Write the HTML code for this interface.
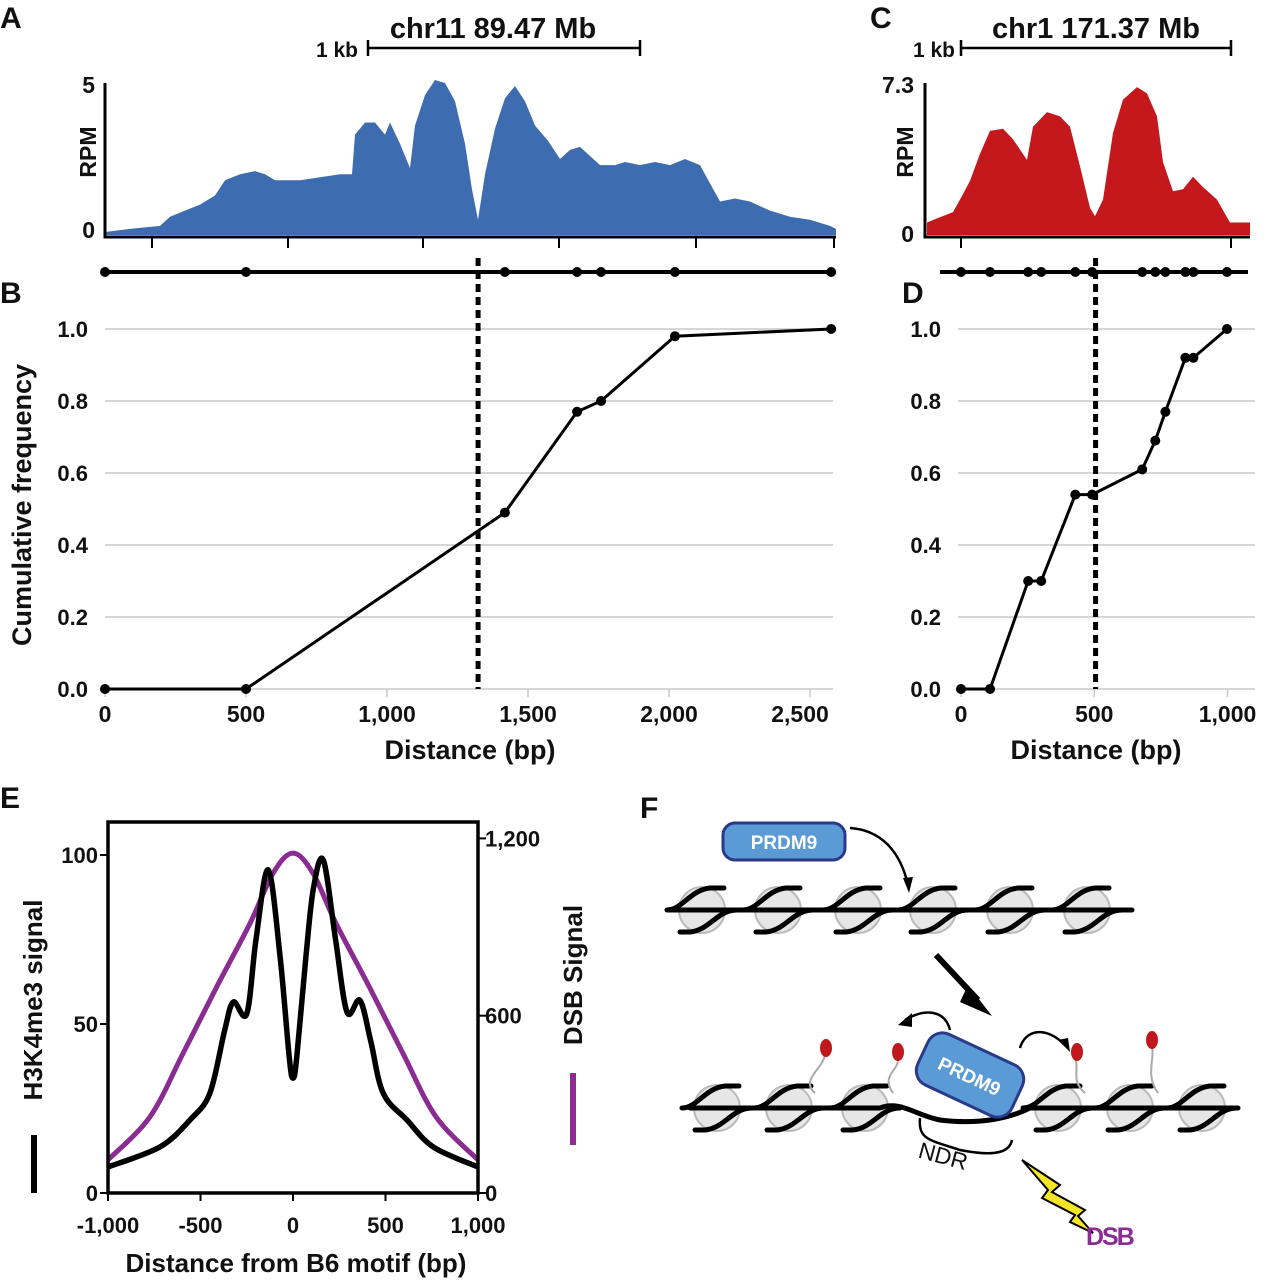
<!DOCTYPE html>
<html><head><meta charset="utf-8"><style>
body{margin:0;background:#fff}
svg{display:block;font-family:"Liberation Sans",sans-serif}
text{fill:#111;font-weight:bold}
</style></head><body>
<svg id="fig" width="1268" height="1280" viewBox="0 0 1268 1280">
<g id="gA"></g>
<g id="gB"></g>
<g id="gC"></g>
<g id="gD"></g>
<g id="gE"></g>
<g id="gF">
 <text x="640" y="818" font-size="30">F</text>
 <g id="nucTop"></g>
 <rect x="723" y="823" width="122" height="37" rx="12" fill="#5b9bd5" stroke="#2a3a8a" stroke-width="3"/>
 <text x="784" y="849" font-size="19" text-anchor="middle" style="fill:#fff">PRDM9</text>
 <path d="M850 828 C880 830 900 850 908 885" fill="none" stroke="#000" stroke-width="2.5"/>
 <path d="M903 878 L909 893 L913 877 Z" fill="#000"/>
 <path d="M936 955 L978 1000" stroke="#000" stroke-width="6"/>
 <path d="M968 985 L992 1016 L960 1002 Z" fill="#000"/>
 <g id="nucBot"></g>
 <g fill="none" stroke="#aaa" stroke-width="2"><path d="M815 1093 C800 1080 822 1070 825 1055"/><path d="M893 1093 C880 1075 900 1070 898 1058"/><path d="M1085 1093 C1070 1080 1080 1070 1075 1058"/><path d="M1158 1093 C1145 1075 1155 1060 1152 1045"/></g>
 <g fill="#c0181d">
  <ellipse cx="826" cy="1048" rx="6" ry="9"/><ellipse cx="898" cy="1052" rx="6" ry="9"/><ellipse cx="1077" cy="1052" rx="6" ry="9"/><ellipse cx="1152" cy="1040" rx="6" ry="9"/>
 </g>
 <path d="M950 1030 C945 1010 925 1008 905 1020" fill="none" stroke="#000" stroke-width="2.5"/>
 <path d="M1020 1048 C1025 1030 1045 1025 1065 1045" fill="none" stroke="#000" stroke-width="2.5"/>
 <path d="M898 1025 L912 1013 L912 1027 Z" fill="#000"/><path d="M1070 1052 L1058 1040 L1068 1038 Z" fill="#000"/>
 <path d="M880 1108 C900 1100 915 1115 940 1120 C980 1125 1010 1118 1030 1108" fill="none" stroke="#000" stroke-width="5"/>
 <g transform="rotate(25 970 1075)">
  <rect x="918" y="1047" width="104" height="56" rx="16" fill="#5b9bd5" stroke="#2a3a8a" stroke-width="3"/>
  <text x="970" y="1083" font-size="19" text-anchor="middle" style="fill:#fff">PRDM9</text>
 </g>
 <path d="M920 1118 C918 1140 930 1140 960 1150 C1000 1158 1010 1150 1012 1140" fill="none" stroke="#000" stroke-width="2.5"/>
 <text x="915" y="1163" font-size="23" font-weight="normal" transform="rotate(15 938 1168)" style="font-weight:normal">NDR</text>
 <path d="M1022 1160 L1060 1185 L1052 1192 L1085 1210 L1078 1216 L1093 1233 L1070 1222 L1075 1215 L1042 1198 L1048 1190 Z" fill="#f5e625" stroke="#000" stroke-width="2"/>
 <text x="1086" y="1245" font-size="25" style="fill:#8b2c92" letter-spacing="-2">DSB</text>
</g>
</svg>
<script>
// ---------- DATA ----------
const posA=[0,25,55,65,80,95,110,120,135,150,160,170,195,215,235,247,250,260,270,280,285,295,305,310,320,330,340,350,360,367,373,380,390,400,410,420,430,443,455,465,475,485,495,510,520,535,550,565,580,595,605,615,630,645,665,685,705,725,731];
const rpmA=[0.1,0.2,0.3,0.6,0.8,1.0,1.3,1.8,2.0,2.1,2.0,1.8,1.8,1.9,2.0,2.0,3.3,3.7,3.7,3.3,3.7,3.0,2.2,3.6,4.6,5.1,5.0,4.4,3.0,1.5,0.5,2.0,3.5,4.5,4.9,4.4,3.6,3.1,2.5,2.8,2.9,2.6,2.3,2.3,2.4,2.3,2.4,2.3,2.5,2.3,1.7,1.1,1.2,1.1,0.8,0.6,0.5,0.3,0.2];
const distB=[0,500,1418,1674,1759,2021,2575];
const freqB=[0,0,0.49,0.77,0.80,0.98,1.0];
const medianB=1323;
const posC=[0,10,26,33,43,53,63,76,86,100,106,120,133,143,153,163,168,176,186,196,210,220,230,236,246,256,266,276,290,303,323];
const rpmC=[0.6,0.8,1.1,1.7,2.6,3.9,5.0,5.1,4.6,3.6,5.2,5.9,5.7,5.2,3.3,1.3,0.9,1.7,4.9,6.5,7.1,6.8,5.7,3.5,2.1,2.2,2.8,2.3,1.7,0.6,0.6];
const distD=[0,109,252,301,429,492,680,729,767,842,872,998];
const freqD=[0,0,0.30,0.30,0.54,0.54,0.61,0.69,0.77,0.92,0.92,1.0];
const medianD=505;
const posE=[-1000,-720,-557,-449,-370,-323,-250,-200,-134,-70,-20,0,20,70,110,164,230,292,362,420,487,616,759,1000];
const h3k4=[7.7,13.6,21.6,29.6,48,56.5,53,75,95.6,70,40,34,40,70,90,98.5,75,53.5,57,45,29.6,21.6,13.6,7.7];
const posP=[-1000,-773,-594,-412,-232,-107,0,107,232,412,594,773,1000];
const dsb=[112,258,473,698,913,1083,1150,1083,913,698,473,258,112];
const ticksB=[0,500,1000,1500,2000,2500];
const ticksD=[0,500,1000];
const ticksFreq=[0,0.2,0.4,0.6,0.8,1.0];
const ticksEx=[-1000,-500,0,500,1000];
const ticksEl=[0,50,100];
const ticksEr=[0,600,1200];
// ---------- helpers ----------
const NS="http://www.w3.org/2000/svg";
function mk(parent,tag,attrs,txt){const e=document.createElementNS(NS,tag);for(const k in attrs)e.setAttribute(k,attrs[k]);if(txt!==undefined)e.textContent=txt;parent.appendChild(e);return e;}
const fmt=v=>v>=1000||v<=-1000?(v<0?"-":"")+Math.floor(Math.abs(v)/1000)+","+String(Math.abs(v)%1000).padStart(3,"0"):String(v);
function smooth(pts){let d='M'+pts[0][0]+' '+pts[0][1];
 for(let i=0;i<pts.length-1;i++){const p0=pts[Math.max(0,i-1)],p1=pts[i],p2=pts[i+1],p3=pts[Math.min(pts.length-1,i+2)];
  const c1=[p1[0]+(p2[0]-p0[0])/6,p1[1]+(p2[1]-p0[1])/6],c2=[p2[0]-(p3[0]-p1[0])/6,p2[1]-(p3[1]-p1[1])/6];
  d+=` C${c1[0]} ${c1[1]} ${c2[0]} ${c2[1]} ${p2[0]} ${p2[1]}`;}
 return d;}

// ---------- Panel A ----------
(function(){
const g=document.getElementById('gA');
const x=p=>105+p, y=v=>235-v/5*152;
mk(g,'text',{x:0,y:28,'font-size':30},'A');
mk(g,'text',{x:493,y:38,'font-size':29,'text-anchor':'middle'},'chr11 89.47 Mb');
mk(g,'path',{d:'M368 40V56M368 48H640M640 40V56',stroke:'#000','stroke-width':2.5,fill:'none'});
mk(g,'text',{x:358,y:57,'font-size':21,'text-anchor':'end'},'1 kb');
let d='M'+x(posA[0])+' '+y(0);
posA.forEach((p,i)=>{d+=' L'+x(p)+' '+y(rpmA[i]);});
d+=' L'+x(posA[posA.length-1])+' '+y(0)+' Z';
const a=mk(g,'path',{d:d,fill:'#3d6db0'});


mk(g,'path',{d:'M105 83V237H836',stroke:'#000','stroke-width':3,fill:'none'});
[152,288,423,559,696,834].forEach(t=>mk(g,'line',{x1:t,x2:t,y1:237,y2:248,stroke:'#000','stroke-width':2}));
mk(g,'text',{x:95,y:93,'font-size':23,'text-anchor':'end'},'5');
mk(g,'text',{x:95,y:238,'font-size':23,'text-anchor':'end'},'0');
mk(g,'text',{x:0,y:0,'font-size':23,'text-anchor':'middle',transform:'translate(96,152) rotate(-90)'},'RPM');
})();

// ---------- CDF panels ----------
function cdf(gid,label,x0,pxPerBp,ticks,dist,freq,med,gridX1,gridX2,stripX1,stripX2,xlabelX,ylabel){
const g=document.getElementById(gid);
const x=v=>x0+v*pxPerBp, y=v=>689-v*360;
mk(g,'text',{x:label==='B'?0:902,y:303,'font-size':30},label);
ticksFreq.forEach(t=>{
 if(t>0) mk(g,'line',{x1:gridX1,x2:gridX2,y1:y(t),y2:y(t),stroke:'#c8c8c8','stroke-width':1.5});
 mk(g,'text',{x:gridX1-17,y:y(t)+8,'font-size':22,'text-anchor':'end'},t.toFixed(1));
});
mk(g,'line',{x1:gridX1,x2:gridX2,y1:689,y2:689,stroke:'#c8c8c8','stroke-width':1.5});
ticks.forEach((t,i)=>{
 let tx=x(t); if(label==='B'&&i===ticks.length-1) tx=800;
 mk(g,'line',{x1:x(t),x2:x(t),y1:689,y2:697,stroke:'#c8c8c8','stroke-width':1.5});
 mk(g,'text',{x:tx,y:722,'font-size':23,'text-anchor':'middle'},fmt(t));
});
mk(g,'text',{x:xlabelX,y:759,'font-size':27,'text-anchor':'middle'},'Distance (bp)');
if(ylabel) mk(g,'text',{x:0,y:0,'font-size':27,'text-anchor':'middle',transform:'translate(31,505) rotate(-90)'},ylabel);
mk(g,'line',{x1:stripX1,x2:stripX2,y1:272,y2:272,stroke:'#000','stroke-width':4});
dist.forEach(v=>{const c=mk(g,'circle',{cx:x(v),cy:272,r:5,fill:'#000'});
 
 });
const m=mk(g,'line',{x1:x(med),x2:x(med),y1:258,y2:689,stroke:'#000','stroke-width':5,'stroke-dasharray':'8 5'});


const l=mk(g,'polyline',{points:dist.map((v,i)=>x(v)+','+y(freq[i])).join(' '),fill:'none',stroke:'#000','stroke-width':3});


dist.forEach((v,i)=>{const c=mk(g,'circle',{cx:x(v),cy:y(freq[i]),r:5,fill:'#000'});
 
 });
}
cdf('gB','B',105,0.282,ticksB,distB,freqB,medianB,105,833,105,833,470,'Cumulative frequency');
cdf('gD','D',961,0.2665,ticksD,distD,freqD,medianD,958,1255,940,1248,1096,null);

// ---------- Panel C ----------
(function(){
const g=document.getElementById('gC');
const x=p=>927+p, y=v=>235-v/7.3*152;
mk(g,'text',{x:870,y:28,'font-size':30},'C');
mk(g,'text',{x:1096,y:38,'font-size':29,'text-anchor':'middle'},'chr1 171.37 Mb');
mk(g,'path',{d:'M961 40V56M961 48H1231M1231 40V56',stroke:'#000','stroke-width':2.5,fill:'none'});
mk(g,'text',{x:955,y:57,'font-size':21,'text-anchor':'end'},'1 kb');
let d='M'+x(0)+' '+y(0);
posC.forEach((p,i)=>{d+=' L'+x(p)+' '+y(rpmC[i]);});
d+=' L'+x(posC[posC.length-1])+' '+y(0)+' Z';
const a=mk(g,'path',{d:d,fill:'#c4181c'});


mk(g,'path',{d:'M925 83V237H1250',stroke:'#000','stroke-width':3,fill:'none'});
[961,1231].forEach(t=>mk(g,'line',{x1:t,x2:t,y1:237,y2:248,stroke:'#000','stroke-width':2}));
mk(g,'text',{x:914,y:93,'font-size':23,'text-anchor':'end'},'7.3');
mk(g,'text',{x:914,y:242,'font-size':23,'text-anchor':'end'},'0');
mk(g,'text',{x:0,y:0,'font-size':23,'text-anchor':'middle',transform:'translate(913,152) rotate(-90)'},'RPM');
})();

// ---------- Panel E ----------
(function(){
const g=document.getElementById('gE');
const x=v=>293+v*0.185, yl=v=>1193-v*3.38, yr=v=>1193-v*0.2955;
mk(g,'text',{x:0,y:808,'font-size':30},'E');
const pp=mk(g,'path',{d:smooth(posP.map((v,i)=>[x(v),yr(dsb[i])])),fill:'none',stroke:'#8b2c92','stroke-width':5});


const bp=mk(g,'path',{d:smooth(posE.map((v,i)=>[x(v),yl(h3k4[i])])),fill:'none',stroke:'#000','stroke-width':5.5,'stroke-linejoin':'round'});


mk(g,'rect',{x:108,y:822,width:370,height:371,fill:'none',stroke:'#000','stroke-width':3.5});
ticksEl.forEach(t=>{mk(g,'line',{x1:100,x2:108,y1:yl(t),y2:yl(t),stroke:'#000','stroke-width':2});
 mk(g,'text',{x:98,y:yl(t)+8,'font-size':22,'text-anchor':'end'},t);});
ticksEr.forEach(t=>{mk(g,'line',{x1:478,x2:486,y1:yr(t),y2:yr(t),stroke:'#000','stroke-width':2});
 mk(g,'text',{x:485,y:yr(t)+8,'font-size':22},fmt(t));});
ticksEx.forEach(t=>{mk(g,'line',{x1:x(t),x2:x(t),y1:1193,y2:1201,stroke:'#000','stroke-width':2});
 mk(g,'text',{x:x(t),y:1233,'font-size':22,'text-anchor':'middle'},fmt(t));});
mk(g,'text',{x:296,y:1272,'font-size':26,'text-anchor':'middle'},'Distance from B6 motif (bp)');
mk(g,'text',{x:0,y:0,'font-size':26,'text-anchor':'middle',transform:'translate(42,1000) rotate(-90)'},'H3K4me3 signal');
mk(g,'line',{x1:34,x2:34,y1:1135,y2:1193,stroke:'#000','stroke-width':6});
mk(g,'text',{x:0,y:0,'font-size':26,'text-anchor':'middle',transform:'translate(582,975) rotate(-90)'},'DSB Signal');
mk(g,'line',{x1:573,x2:573,y1:1073,y2:1145,stroke:'#8b2c92','stroke-width':6});
})();

// ---------- Panel F nucleosomes ----------
function nucRow(gid,cy,centers,x1,x2,gaps){
const g=document.getElementById(gid);
centers.forEach(cx=>mk(g,'circle',{cx:cx,cy:cy,r:23,fill:'#e6e6e6',stroke:'#bbb','stroke-width':2}));
let d='';
let segs=[[x1,x2]];
if(gaps) segs=gaps;
segs.forEach(s=>{d+=`M${s[0]} ${cy} H${s[1]} `;});
centers.forEach(cx=>{
 d+=`M${cx-35} ${cy} C${cx-20} ${cy} ${cx-12} ${cy-20} ${cx+8} ${cy-22} L${cx+22} ${cy-22} `;
 d+=`M${cx-22} ${cy+22} L${cx-12} ${cy+22} C${cx+8} ${cy+20} ${cx+15} ${cy} ${cx+35} ${cy} `;
});
mk(g,'path',{d:d,fill:'none',stroke:'#000','stroke-width':5,'stroke-linecap':'round'});
}
nucRow('nucTop',910,[702,778,858,933,1010,1087],667,1132,null);
nucRow('nucBot',1108,[717,789,865,1058,1130,1202],690,1238,[[690,880],[1030,1238]]);
</script>
</body></html>
